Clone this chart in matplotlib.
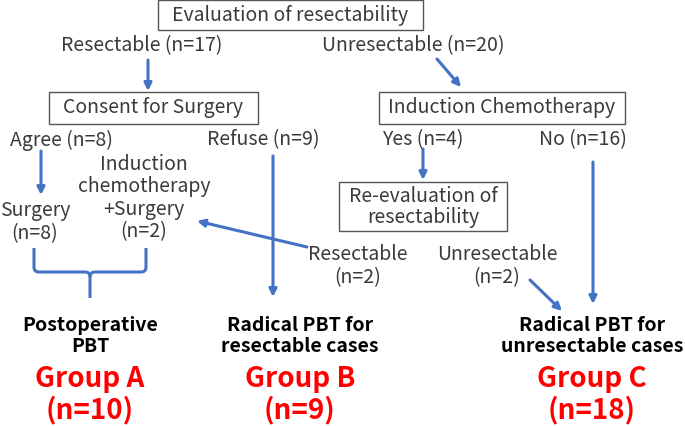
import matplotlib.pyplot as plt
from matplotlib.patches import FancyArrowPatch, PathPatch
from matplotlib.path import Path

plt.rcParams['font.family'] = ['Noto Sans CJK JP', 'DejaVu Sans']

# Data
n_resect = 17
n_unresect = 20
n_agree = 8
n_refuse = 9
n_induction_surgery = 2
n_yes = 4
n_no = 16
n_re_resect = 2
n_re_unresect = 2
groups = ['Group A', 'Group B', 'Group C']
group_titles = ['Postoperative\nPBT', 'Radical PBT for\nresectable cases',
                'Radical PBT for\nunresectable cases']
group_n = [10, 9, 18]

BLUE = '#4472C4'
GRAY = '#3a3a3a'
RED = '#FF0000'

fig = plt.figure(figsize=(6.85, 4.27), dpi=100)
ax = fig.add_axes([0, 0, 1, 1])
ax.set_xlim(0, 685)
ax.set_ylim(427, 0)
ax.axis('off')

fs = 14


def box(x0, y0, x1, y1):
    ax.add_patch(plt.Rectangle((x0, y0), x1 - x0, y1 - y0, fill=False,
                               edgecolor='#555555', lw=1.0))


def txt(x, y, s, **kw):
    kw.setdefault('color', GRAY)
    kw.setdefault('fontsize', fs)
    kw.setdefault('linespacing', 1.12)
    ax.text(x, y, s, ha='center', va='center', **kw)


def arrow(x0, y0, x1, y1):
    ax.add_patch(FancyArrowPatch((x0, y0), (x1, y1), arrowstyle='-|>',
                                 mutation_scale=11, color=BLUE, lw=2.2,
                                 shrinkA=0, shrinkB=0))


# boxes
box(158, 1, 423, 31)
txt(290, 15, 'Evaluation of resectability')
box(49, 93, 258, 125)
txt(153, 108, 'Consent for Surgery')
box(379, 93, 625, 125)
txt(502, 108, 'Induction Chemotherapy')
box(339, 183, 507, 232)
txt(423, 207, 'Re-evaluation of\nresectability', linespacing=1.05)

# branch labels
txt(142, 46, f'Resectable (n={n_resect})')
txt(413, 46, f'Unresectable (n={n_unresect})')
txt(61, 140, f'Agree (n={n_agree})')
txt(263, 140, f'Refuse (n={n_refuse})')
txt(423, 140, f'Yes (n={n_yes})')
txt(583, 140, f'No (n={n_no})')
txt(35, 222, f'Surgery\n(n={n_agree})')
txt(144, 198, f'Induction\nchemotherapy\n+Surgery\n(n={n_induction_surgery})',
    linespacing=1.08)
txt(358, 266, f'Resectable\n(n={n_re_resect})')
txt(497, 266, f'Unresectable\n(n={n_re_unresect})')

# arrows
arrow(148, 61, 148, 92)
arrow(437, 60, 461, 88)
arrow(41, 152, 41, 196)
arrow(273, 157, 273, 298)
arrow(423, 150, 423, 181)
arrow(593, 163, 593, 305)
arrow(307, 248, 197, 222)
arrow(530, 281, 562, 312)

# brace for Group A
r = 5
verts = [(34, 249), (34, 273 - r), (34, 273), (34 + r, 273),
         (90 - r, 273), (90, 273), (90, 273 + r), (90, 299)]
codes = [Path.MOVETO, Path.LINETO, Path.CURVE3, Path.CURVE3,
         Path.LINETO, Path.CURVE3, Path.CURVE3, Path.LINETO]
verts2 = [(146, 249), (146, 273 - r), (146, 273), (146 - r, 273),
          (90 + r, 273), (90, 273), (90, 273 + r)]
codes2 = [Path.MOVETO, Path.LINETO, Path.CURVE3, Path.CURVE3,
          Path.LINETO, Path.CURVE3, Path.CURVE3]
for v, c in [(verts, codes), (verts2, codes2)]:
    ax.add_patch(PathPatch(Path(v, c), fill=False, edgecolor=BLUE, lw=2.2))

# groups
gx = [90, 300, 592]
for x, title, g, n in zip(gx, group_titles, groups, group_n):
    txt(x, 336, title, color='black', fontweight='bold', fontsize=14)
    txt(x, 379, g, color=RED, fontweight='bold', fontsize=20)
    txt(x, 410, f'(n={n})', color=RED, fontweight='bold', fontsize=20)

fig.savefig('out.png', dpi=100)
